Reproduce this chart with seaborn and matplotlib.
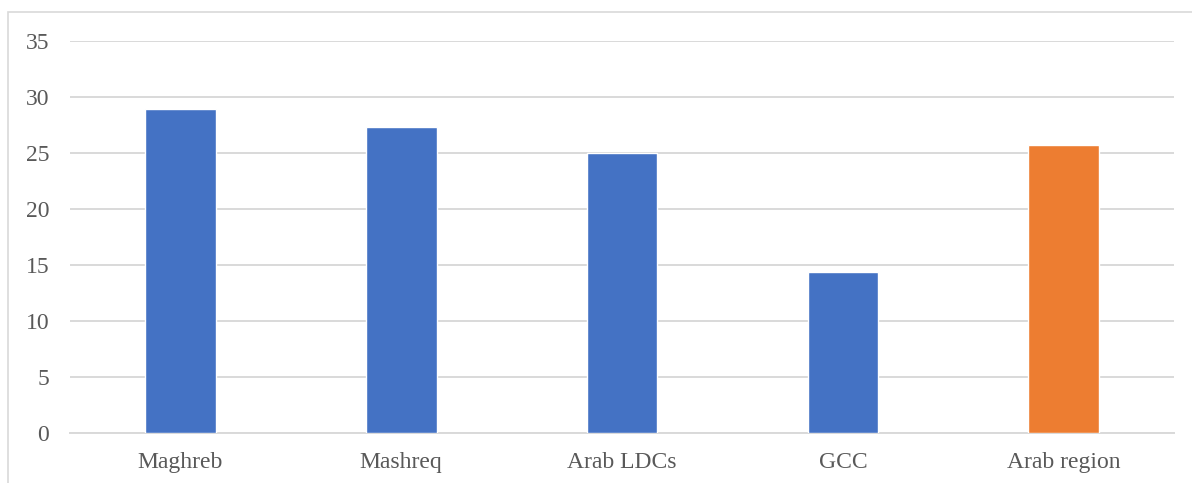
import matplotlib
matplotlib.use("Agg")
import matplotlib.pyplot as plt
from matplotlib.patches import Rectangle
import seaborn as sns
import pandas as pd

categories = ["Maghreb", "Mashreq", "Arab LDCs", "GCC", "Arab region"]
values = [28.9, 27.3, 25.0, 14.4, 25.7]
bar_colors = ["#4472C4", "#4472C4", "#4472C4", "#4472C4", "#ED7D31"]
y_ticks = [0, 5, 10, 15, 20, 25, 30, 35]

sns.set_theme(style="white")
plt.rcParams["font.family"] = ["Liberation Serif", "DejaVu Serif"]

df = pd.DataFrame({"region": categories, "value": values})

fig = plt.figure(figsize=(11.92, 4.83), dpi=100)
ax = fig.add_axes([0.0587, 0.1035, 0.9263, 0.8126])

sns.barplot(data=df, x="region", y="value", hue="region",
            palette=dict(zip(categories, bar_colors)), order=categories,
            width=0.32, saturation=1, legend=False, ax=ax, zorder=3)

ax.set_ylim(0, 35)
ax.set_xlim(-0.5, len(categories) - 0.5)
ax.set_yticks(y_ticks)
ax.set_yticklabels([str(t) for t in y_ticks])
ax.yaxis.grid(True, color="#d9d9d9", linewidth=1.4, zorder=0)
ax.set_axisbelow(True)
for s in ["top", "right", "left"]:
    ax.spines[s].set_visible(False)
ax.spines["bottom"].set_color("#d9d9d9")
ax.spines["bottom"].set_linewidth(1.4)
ax.tick_params(axis="both", length=0, labelsize=17, colors="#595959")
ax.tick_params(axis="y", pad=15)
ax.tick_params(axis="x", pad=14)
ax.set_xlabel("")
ax.set_ylabel("")

# chart frame
fig.patches.append(Rectangle((8 / 1192, -0.05), 1.2, 1 - 12 / 483 + 0.05,
                             transform=fig.transFigure, fill=False,
                             edgecolor="#d9d9d9", linewidth=1.2))

fig.savefig("out.png", dpi=100)
